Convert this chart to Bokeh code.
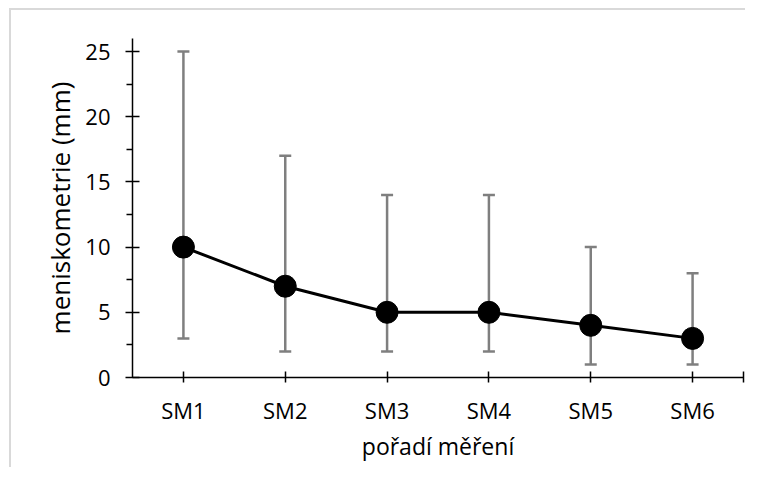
from bokeh.plotting import figure
from bokeh.models import Range1d, LinearAxis, FixedTicker, Whisker, TeeHead, ColumnDataSource
from bokeh.embed import file_html
from bokeh.resources import INLINE

# ---- data ----
categories = ["SM1", "SM2", "SM3", "SM4", "SM5", "SM6"]
medians = [10, 7, 5, 5, 4, 3]
lower = [3, 2, 2, 2, 1, 1]
upper = [25, 17, 14, 14, 10, 8]
y_major_ticks = [0, 5, 10, 15, 20, 25]
y_minor_ticks = [2.5, 7.5, 12.5, 17.5, 22.5]
x_title = "pořadí měření"
y_title = "meniskometrie (mm)"

FONT = "Open Sans"

xpos = [i + 0.5 for i in range(len(categories))]
src = ColumnDataSource(dict(x=xpos, y=medians, lo=lower, hi=upper))

p = figure(frame_width=611, frame_height=339,
           min_border_left=132, min_border_right=2,
           min_border_top=38, min_border_bottom=90,
           x_range=Range1d(0, len(categories)), y_range=Range1d(0, 26),
           output_backend="svg", toolbar_location=None,
           x_axis_type=None, y_axis_type=None)
p.styles = {"background": "linear-gradient(#d9d9d9,#d9d9d9) 9px 9px / 2px 100% no-repeat, "
                          "linear-gradient(#d9d9d9,#d9d9d9) 9px 8px / 100% 2px no-repeat, white"}
p.grid.visible = False
p.outline_line_color = None
p.background_fill_color = "white"
p.border_fill_color = None

# x axis
xa = LinearAxis(ticker=FixedTicker(ticks=xpos + [len(categories)], minor_ticks=[]))
xa.major_label_overrides = {**{x: c for x, c in zip(xpos, categories)}, len(categories): ""}
xa.axis_label = x_title
p.add_layout(xa, "below")

# y axis
ya = LinearAxis(ticker=FixedTicker(ticks=y_major_ticks, minor_ticks=y_minor_ticks))
ya.axis_label = y_title
p.add_layout(ya, "left")

for ax in (xa, ya):
    ax.axis_line_color = "black"
    ax.axis_line_width = 1.5
    ax.major_tick_line_color = "black"
    ax.major_tick_line_width = 1.5
    ax.minor_tick_line_color = "black"
    ax.minor_tick_line_width = 1.5
    ax.major_label_text_font = FONT
    ax.major_label_text_font_size = "22px"
    ax.major_label_text_color = "black"
    ax.axis_label_text_font = FONT
    ax.axis_label_text_font_style = "normal"
    ax.axis_label_text_color = "black"

xa.axis_label_text_font_size = "23px"
ya.axis_label_text_font_size = "26px"

xa.major_tick_in = 6
xa.major_tick_out = 5
xa.major_label_standoff = 12
xa.axis_label_standoff = 2

ya.major_tick_in = 7
ya.major_tick_out = 7
ya.minor_tick_in = 0
ya.minor_tick_out = 6
ya.major_label_standoff = 15
ya.axis_label_standoff = 4

# error bars
wh = Whisker(source=src, base="x", lower="lo", upper="hi",
             line_color="#7f7f7f", line_width=2.5,
             upper_head=TeeHead(size=12, line_color="#7f7f7f", line_width=2.5),
             lower_head=TeeHead(size=12, line_color="#7f7f7f", line_width=2.5))
p.add_layout(wh)

p.line("x", "y", source=src, line_color="black", line_width=3)
p.scatter("x", "y", source=src, size=22, fill_color="black", line_color="black")

open("out.html", "w").write(file_html(p, INLINE))
